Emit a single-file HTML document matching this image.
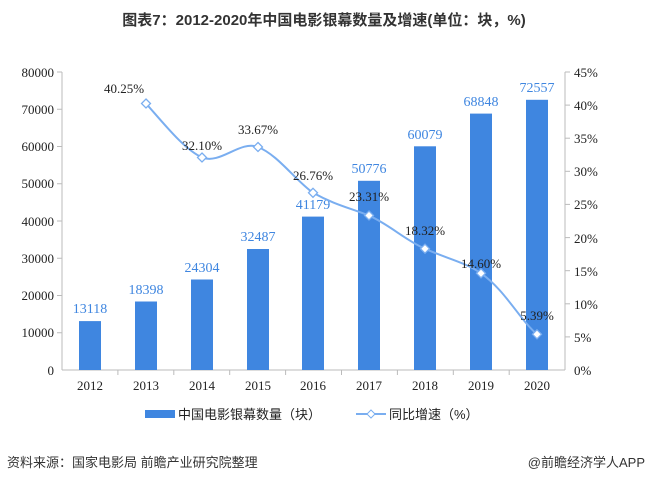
<!DOCTYPE html>
<html><head><meta charset="utf-8"><style>
body{margin:0;background:#fff;}
svg{display:block;}
</style></head><body>
<svg width="647" height="482" viewBox="0 0 647 482" xmlns="http://www.w3.org/2000/svg">
<text x="324" y="25" text-anchor="middle" font-family="Liberation Sans, Noto Sans CJK SC, sans-serif" font-size="15" font-weight="bold" fill="#333">图表7：2012-2020年中国电影银幕数量及增速(单位：块，%)</text>
<g stroke="#bbb" stroke-width="1" fill="none">
<line x1="62" y1="72" x2="62" y2="370"/>
<line x1="565" y1="72" x2="565" y2="370"/>
<line x1="62" y1="370" x2="565" y2="370"/>
</g>
<g stroke="#bbb">
<line x1="57" y1="72" x2="62" y2="72"/><line x1="57" y1="109.25" x2="62" y2="109.25"/><line x1="57" y1="146.5" x2="62" y2="146.5"/><line x1="57" y1="183.75" x2="62" y2="183.75"/><line x1="57" y1="221" x2="62" y2="221"/><line x1="57" y1="258.25" x2="62" y2="258.25"/><line x1="57" y1="295.5" x2="62" y2="295.5"/><line x1="57" y1="332.75" x2="62" y2="332.75"/>
<line x1="565" y1="72" x2="570" y2="72"/><line x1="565" y1="105.1" x2="570" y2="105.1"/><line x1="565" y1="138.2" x2="570" y2="138.2"/><line x1="565" y1="171.3" x2="570" y2="171.3"/><line x1="565" y1="204.4" x2="570" y2="204.4"/><line x1="565" y1="237.6" x2="570" y2="237.6"/><line x1="565" y1="270.7" x2="570" y2="270.7"/><line x1="565" y1="303.8" x2="570" y2="303.8"/><line x1="565" y1="336.9" x2="570" y2="336.9"/>
<line x1="117.9" y1="370" x2="117.9" y2="375"/><line x1="173.8" y1="370" x2="173.8" y2="375"/><line x1="229.7" y1="370" x2="229.7" y2="375"/><line x1="285.6" y1="370" x2="285.6" y2="375"/><line x1="341.5" y1="370" x2="341.5" y2="375"/><line x1="397.4" y1="370" x2="397.4" y2="375"/><line x1="453.3" y1="370" x2="453.3" y2="375"/><line x1="509.2" y1="370" x2="509.2" y2="375"/>
</g>
<g font-family="Liberation Serif, serif" font-size="13" fill="#222" text-anchor="end">
<text x="54" y="77">80000</text><text x="54" y="114">70000</text><text x="54" y="151">60000</text><text x="54" y="188">50000</text><text x="54" y="226">40000</text><text x="54" y="263">30000</text><text x="54" y="300">20000</text><text x="54" y="337">10000</text><text x="54" y="375">0</text>
</g>
<g font-family="Liberation Serif, serif" font-size="13" fill="#222" text-anchor="start">
<text x="574" y="77">45%</text><text x="574" y="110">40%</text><text x="574" y="143">35%</text><text x="574" y="176">30%</text><text x="574" y="209">25%</text><text x="574" y="243">20%</text><text x="574" y="276">15%</text><text x="574" y="309">10%</text><text x="574" y="342">5%</text><text x="574" y="375">0%</text>
</g>
<g font-family="Liberation Serif, serif" font-size="13" fill="#222" text-anchor="middle">
<text x="90" y="390">2012</text><text x="146" y="390">2013</text><text x="202" y="390">2014</text><text x="258" y="390">2015</text><text x="313" y="390">2016</text><text x="369" y="390">2017</text><text x="425" y="390">2018</text><text x="481" y="390">2019</text><text x="537" y="390">2020</text>
</g>
<g fill="#3f86e0">
<rect x="79" y="321.1" width="22" height="48.9"/>
<rect x="135" y="301.5" width="22" height="68.5"/>
<rect x="191" y="279.5" width="22" height="90.5"/>
<rect x="247" y="249" width="22" height="121"/>
<rect x="302" y="216.6" width="22" height="153.4"/>
<rect x="358" y="180.8" width="22" height="189.2"/>
<rect x="414" y="146.3" width="22" height="223.7"/>
<rect x="470" y="113.6" width="22" height="256.4"/>
<rect x="526" y="99.8" width="22" height="270.2"/>
</g>
<g font-family="Liberation Serif, serif" font-size="14" fill="#3f86e0" text-anchor="middle">
<text x="90" y="313">13118</text><text x="146" y="294">18398</text><text x="202" y="272">24304</text><text x="258" y="241">32487</text><text x="313" y="209">41179</text><text x="369" y="173">50776</text><text x="425" y="139">60079</text><text x="481" y="106">68848</text><text x="537" y="92">72557</text>
</g>
<path d="M146,103.5 C165,125 185,150 202,157.4 C220,165 240,140 258,147 C278,155 295,180 313,192.8 C335,205 350,208 369,215.6 C390,225 405,240 425,248.7 C445,258 465,262 481,273.3 C505,290 520,320 537,334.3" fill="none" stroke="#7aaef0" stroke-width="2"/>
<g fill="#fff" stroke="#7aaef0" stroke-width="1.3">
<path d="M146,99 l4.5,4.5 l-4.5,4.5 l-4.5,-4.5z"/>
<path d="M202,153 l4.5,4.5 l-4.5,4.5 l-4.5,-4.5z"/>
<path d="M258,142.5 l4.5,4.5 l-4.5,4.5 l-4.5,-4.5z"/>
<path d="M313,188.3 l4.5,4.5 l-4.5,4.5 l-4.5,-4.5z"/>
<path d="M369,211 l4.5,4.5 l-4.5,4.5 l-4.5,-4.5z"/>
<path d="M425,244.2 l4.5,4.5 l-4.5,4.5 l-4.5,-4.5z"/>
<path d="M481,268.8 l4.5,4.5 l-4.5,4.5 l-4.5,-4.5z"/>
<path d="M537,329.8 l4.5,4.5 l-4.5,4.5 l-4.5,-4.5z"/>
</g>
<g font-family="Liberation Serif, serif" font-size="13" fill="#222" text-anchor="middle">
<text x="124" y="93">40.25%</text><text x="202" y="150">32.10%</text><text x="258" y="134">33.67%</text><text x="313" y="180">26.76%</text><text x="369" y="201">23.31%</text><text x="425" y="235">18.32%</text><text x="481" y="268">14.60%</text><text x="537" y="320">5.39%</text>
</g>
<rect x="145" y="410" width="30" height="8" fill="#3f86e0"/>
<text x="178" y="419" font-family="Liberation Sans, Noto Sans CJK SC, sans-serif" font-size="13" fill="#222">中国电影银幕数量（块）</text>
<line x1="356" y1="414" x2="386" y2="414" stroke="#7aaef0" stroke-width="2"/>
<path d="M371,410 l4,4 l-4,4 l-4,-4z" fill="#fff" stroke="#7aaef0"/>
<text x="389" y="419" font-family="Liberation Sans, Noto Sans CJK SC, sans-serif" font-size="13" fill="#222">同比增速（%）</text>
<text x="7" y="467" font-family="Liberation Sans, Noto Sans CJK SC, sans-serif" font-size="13" fill="#333">资料来源：国家电影局 前瞻产业研究院整理</text>
<text x="645" y="467" text-anchor="end" font-family="Liberation Sans, Noto Sans CJK SC, sans-serif" font-size="13" fill="#333">@前瞻经济学人APP</text>
</svg>
</body></html>
